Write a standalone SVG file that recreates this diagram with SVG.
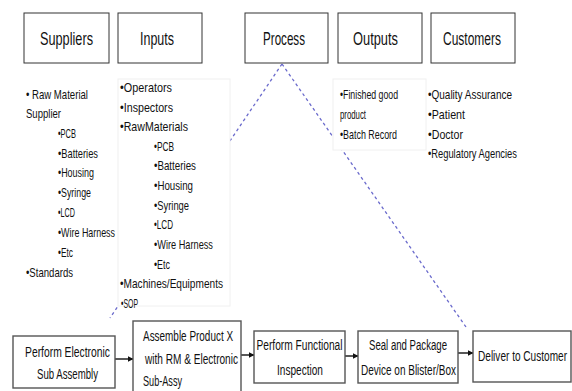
<svg xmlns="http://www.w3.org/2000/svg" width="572" height="391" viewBox="0 0 572 391">
<style>
text{font-family:"Liberation Sans",Arial,sans-serif;fill:#111}
.hd{font-size:18px;text-anchor:middle}
.li{font-size:13px}
.sm{font-size:12.5px}
.bx{font-size:15px}
.c{text-anchor:middle}
.top{fill:#fff;stroke:#333;stroke-width:1}
.box{fill:#fff;stroke:#555;stroke-width:1.4}
.tb{fill:#fff;stroke:#f0f0f0;stroke-width:1}
.dash{fill:none;stroke:#6a6acc;stroke-width:1.3;stroke-dasharray:3 3}
.arr{stroke:#111;stroke-width:1.4;fill:none;marker-end:url(#ah)}
</style>
<defs>
<marker id="ah" viewBox="0 0 10 10" refX="9" refY="5" markerWidth="6" markerHeight="6" markerUnits="userSpaceOnUse" orient="auto">
<path d="M0,0 L10,5 L0,10 z" fill="#111"/>
</marker>
</defs>
<rect width="572" height="391" fill="#fff"/>
<g id="connectors">
<line class="dash" x1="282" y1="64" x2="110" y2="318"/>
<line class="dash" x1="282" y1="64" x2="466" y2="327"/>
<line class="arr" x1="115" y1="359" x2="133" y2="359"/>
<line class="arr" x1="241" y1="355" x2="254" y2="355"/>
<line class="arr" x1="345" y1="356" x2="358" y2="356"/>
<line class="arr" x1="458" y1="353" x2="473" y2="353"/>
</g>
<g id="suppliers">
<rect class="top" x="24" y="13" width="85" height="50"/>
<text class="hd" transform="translate(66.5 45) scale(0.72 1)" textLength="73.6" lengthAdjust="spacingAndGlyphs">Suppliers</text>
</g>
<g id="inputs">
<rect class="top" x="118" y="13" width="84" height="50"/>
<text class="hd" transform="translate(157 45) scale(0.72 1)" textLength="47.2" lengthAdjust="spacingAndGlyphs">Inputs</text>
</g>
<g id="process">
<rect class="top" x="245" y="13" width="83" height="50"/>
<text class="hd" transform="translate(284 45) scale(0.72 1)" textLength="58.3" lengthAdjust="spacingAndGlyphs">Process</text>
</g>
<g id="outputs">
<rect class="top" x="338" y="13" width="84" height="50"/>
<text class="hd" transform="translate(375.5 45) scale(0.72 1)" textLength="62.5" lengthAdjust="spacingAndGlyphs">Outputs</text>
</g>
<g id="customers">
<rect class="top" x="431" y="13" width="84" height="50"/>
<text class="hd" transform="translate(472 45) scale(0.72 1)" textLength="80.6" lengthAdjust="spacingAndGlyphs">Customers</text>
</g>
<g id="suppliers-list">
<text class="li" transform="translate(26 99) scale(0.72 1)" textLength="86.1" lengthAdjust="spacingAndGlyphs">• Raw Material</text>
<text class="li" transform="translate(26 118) scale(0.72 1)" textLength="48.6" lengthAdjust="spacingAndGlyphs">Supplier</text>
<text class="li" transform="translate(58 138) scale(0.72 1)" textLength="25" lengthAdjust="spacingAndGlyphs">•PCB</text>
<text class="li" transform="translate(58 158) scale(0.72 1)" textLength="55.6" lengthAdjust="spacingAndGlyphs">•Batteries</text>
<text class="li" transform="translate(58 177) scale(0.72 1)" textLength="50" lengthAdjust="spacingAndGlyphs">•Housing</text>
<text class="li" transform="translate(58 197) scale(0.72 1)" textLength="45.8" lengthAdjust="spacingAndGlyphs">•Syringe</text>
<text class="li" transform="translate(58 217) scale(0.72 1)" textLength="23.6" lengthAdjust="spacingAndGlyphs">•LCD</text>
<text class="li" transform="translate(58 237) scale(0.72 1)" textLength="79.2" lengthAdjust="spacingAndGlyphs">•Wire Harness</text>
<text class="li" transform="translate(58 257) scale(0.72 1)" textLength="20.8" lengthAdjust="spacingAndGlyphs">•Etc</text>
<text class="li" transform="translate(26 277) scale(0.72 1)" textLength="65.3" lengthAdjust="spacingAndGlyphs">•Standards</text>
</g>
<g id="inputs-list">
<rect class="tb" x="118" y="79" width="112" height="227"/>
<text class="li" transform="translate(120 92) scale(0.72 1)" textLength="72.2" lengthAdjust="spacingAndGlyphs">•Operators</text>
<text class="li" transform="translate(120 111.5) scale(0.72 1)" textLength="73.6" lengthAdjust="spacingAndGlyphs">•Inspectors</text>
<text class="li" transform="translate(120 131) scale(0.72 1)" textLength="94.4" lengthAdjust="spacingAndGlyphs">•RawMaterials</text>
<text class="li" transform="translate(154 150.5) scale(0.72 1)" textLength="27.8" lengthAdjust="spacingAndGlyphs">•PCB</text>
<text class="li" transform="translate(154 170) scale(0.72 1)" textLength="58.3" lengthAdjust="spacingAndGlyphs">•Batteries</text>
<text class="li" transform="translate(154 190) scale(0.72 1)" textLength="54.2" lengthAdjust="spacingAndGlyphs">•Housing</text>
<text class="li" transform="translate(154 209.5) scale(0.72 1)" textLength="48.6" lengthAdjust="spacingAndGlyphs">•Syringe</text>
<text class="li" transform="translate(154 229) scale(0.72 1)" textLength="26.4" lengthAdjust="spacingAndGlyphs">•LCD</text>
<text class="li" transform="translate(154 249) scale(0.72 1)" textLength="81.9" lengthAdjust="spacingAndGlyphs">•Wire Harness</text>
<text class="li" transform="translate(154 268.5) scale(0.72 1)" textLength="22.2" lengthAdjust="spacingAndGlyphs">•Etc</text>
<text class="li" transform="translate(120 288) scale(0.72 1)" textLength="143.1" lengthAdjust="spacingAndGlyphs">•Machines/Equipments</text>
<text class="li" transform="translate(121 307.5) scale(0.72 1)" textLength="23.6" lengthAdjust="spacingAndGlyphs">•SOP</text>
</g>
<g id="outputs-list">
<rect class="tb" x="333" y="79" width="93" height="71"/>
<text class="sm" transform="translate(340 99) scale(0.72 1)" textLength="80.6" lengthAdjust="spacingAndGlyphs">•Finished good</text>
<text class="sm" transform="translate(340 119) scale(0.72 1)" textLength="36.1" lengthAdjust="spacingAndGlyphs">product</text>
<text class="sm" transform="translate(340 139) scale(0.72 1)" textLength="79.2" lengthAdjust="spacingAndGlyphs">•Batch Record</text>
</g>
<g id="customers-list">
<text class="sm" transform="translate(428 99) scale(0.72 1)" textLength="116.7" lengthAdjust="spacingAndGlyphs">•Quality Assurance</text>
<text class="sm" transform="translate(428 119) scale(0.72 1)" textLength="51.4" lengthAdjust="spacingAndGlyphs">•Patient</text>
<text class="sm" transform="translate(428 138.5) scale(0.72 1)" textLength="48.6" lengthAdjust="spacingAndGlyphs">•Doctor</text>
<text class="sm" transform="translate(428 158) scale(0.72 1)" textLength="123.6" lengthAdjust="spacingAndGlyphs">•Regulatory Agencies</text>
</g>
<g id="perform-electronic">
<rect class="box" x="13" y="336" width="102" height="52"/>
<text class="bx c" transform="translate(67.5 357) scale(0.68 1)" textLength="125" lengthAdjust="spacingAndGlyphs">Perform Electronic</text>
<text class="bx c" transform="translate(67.5 379) scale(0.68 1)" textLength="89.7" lengthAdjust="spacingAndGlyphs">Sub Assembly</text>
</g>
<g id="assemble">
<rect class="box" x="133" y="321" width="108" height="74"/>
<text class="bx" transform="translate(143 341) scale(0.68 1)" textLength="132.4" lengthAdjust="spacingAndGlyphs">Assemble Product X</text>
<text class="bx" transform="translate(145 364) scale(0.68 1)" textLength="136.8" lengthAdjust="spacingAndGlyphs">with RM &amp; Electronic</text>
<text class="bx" transform="translate(143 386) scale(0.68 1)" textLength="57.4" lengthAdjust="spacingAndGlyphs">Sub-Assy</text>
</g>
<g id="functional">
<rect class="box" x="254" y="331" width="91" height="52"/>
<text class="bx c" transform="translate(299.5 350) scale(0.68 1)" textLength="126.5" lengthAdjust="spacingAndGlyphs">Perform Functional</text>
<text class="bx c" transform="translate(300 375) scale(0.68 1)" textLength="67.6" lengthAdjust="spacingAndGlyphs">Inspection</text>
</g>
<g id="seal">
<rect class="box" x="358" y="331" width="100" height="52"/>
<text class="bx c" transform="translate(408 350) scale(0.68 1)" textLength="114.7" lengthAdjust="spacingAndGlyphs">Seal and Package</text>
<text class="bx c" transform="translate(408.5 375) scale(0.68 1)" textLength="139.7" lengthAdjust="spacingAndGlyphs">Device on Blister/Box</text>
</g>
<g id="deliver">
<rect class="box" x="473" y="331" width="98" height="51"/>
<text class="bx c" transform="translate(522.5 361) scale(0.68 1)" textLength="130.9" lengthAdjust="spacingAndGlyphs">Deliver to Customer</text>
</g>
</svg>
